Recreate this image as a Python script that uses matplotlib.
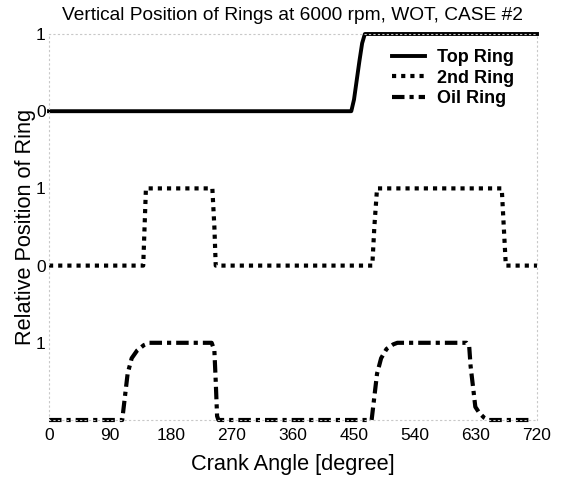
import matplotlib
matplotlib.use("Agg")
import matplotlib.pyplot as plt

plt.rcParams['font.family'] = ['Liberation Sans', 'DejaVu Sans']

# Data (crank angle in degrees, relative ring position 0..1)
top_angle = [0, 446, 450, 454, 458, 462, 466, 720]
top_pos = [0, 0, 0.15, 0.4, 0.65, 0.88, 1.0, 1.0]

second_angle = [0, 139, 141, 143, 241, 244, 246, 477, 480, 484, 668, 671, 674, 720]
second_pos = [0, 0, 0.5, 1.0, 1.0, 0.5, 0, 0, 0.5, 1.0, 1.0, 0.5, 0, 0]

oil_angle = [0, 108, 112, 116, 122, 130, 140, 148, 240, 244, 246, 248, 250,
             476, 480, 484, 490, 498, 508, 514, 616, 620, 622, 626, 629, 635, 642, 648, 712]
oil_pos = [0, 0, 0.3, 0.6, 0.8, 0.9, 0.97, 1.0, 1.0, 0.9, 0.5, 0.05, 0,
           0, 0.3, 0.6, 0.8, 0.92, 0.98, 1.0, 1.0, 0.95, 0.7, 0.4, 0.17, 0.09, 0.03, 0, 0]

# vertical offsets of each ring trace
offsets = {"Top Ring": 4, "2nd Ring": 2, "Oil Ring": 0}

x_ticks = [0, 90, 180, 270, 360, 450, 540, 630, 720]
y_ticks = [1, 2, 3, 4, 5]
y_tick_labels = ["1", "0", "1", "0", "1"]

fig = plt.figure(figsize=(5.66, 4.79), dpi=100)
ax = fig.add_axes([49 / 566, 59 / 479, 488 / 566, 386 / 479])

ax.plot(top_angle, [p + offsets["Top Ring"] for p in top_pos], color='black',
        lw=2.8, linestyle='-', label='Top Ring', clip_on=False)
ax.plot(second_angle, [p + offsets["2nd Ring"] for p in second_pos], color='black',
        lw=3.0, linestyle=(0, (1, 1.2)), label='2nd Ring', clip_on=False)
ax.plot(oil_angle, [p + offsets["Oil Ring"] for p in oil_pos], color='black',
        lw=3.0, linestyle=(0, (3, 1.2, 1, 1.2)), label='Oil Ring', clip_on=False)

ax.set_xlim(0, 720)
ax.set_ylim(0, 5)
ax.set_xticks(x_ticks)
ax.set_xticklabels([str(t) for t in x_ticks], fontsize=12.5)
ax.set_yticks(y_ticks)
ax.set_yticklabels(y_tick_labels, fontsize=12.5)
ax.tick_params(axis='x', length=0, pad=5.5)
ax.tick_params(axis='y', length=0, pad=2.5)

for s in ax.spines.values():
    s.set_color('#c8c8c8')
    s.set_linestyle((0, (1, 3)))
    s.set_linewidth(0.8)

ax.set_title("Vertical Position of Rings at 6000 rpm, WOT, CASE #2", fontsize=13.8, pad=10)
ax.set_xlabel("Crank Angle [degree]", fontsize=15.7, labelpad=8)
ax.set_ylabel("Relative Position of Ring", fontsize=15.7, labelpad=0)

leg = ax.legend(loc='upper left', frameon=False, prop={'weight': 'bold', 'size': 13},
                handlelength=1.85, handletextpad=0.65, labelspacing=0.2,
                borderaxespad=0, borderpad=0,
                bbox_to_anchor=(343 / 488, 1 - 15 / 386))

fig.savefig("out.png", dpi=100)
